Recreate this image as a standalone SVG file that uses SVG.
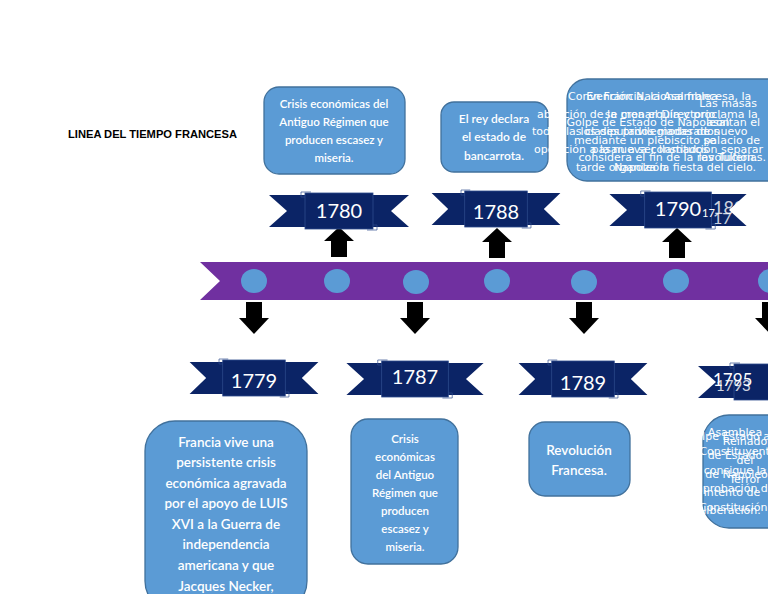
<svg xmlns="http://www.w3.org/2000/svg" width="768" height="594" viewBox="0 0 768 594">
<style>
.box{fill:#5b9bd5;stroke:#41719c;stroke-width:1.3}
.bt{font-family:Lato,"Liberation Sans",sans-serif;font-weight:600;fill:#ffffff;text-anchor:middle}
.ov{font-family:"DejaVu Sans",sans-serif;font-size:11px;fill:#ffffff}
.yr{font-family:Lato,"Liberation Sans",sans-serif;font-size:20px;fill:#ffffff;text-anchor:middle}
.arr{fill:#000000}
.rib{fill:#0b2466}
</style>
<defs>
<g id="ribbon">
<polygon class="rib" points="-70,-16 -28,-16 -28,16 -70,16 -52,0"/>
<polygon class="rib" points="70,-16 28,-16 28,16 70,16 52,0"/>
<rect class="rib" x="-34" y="-18" width="68" height="36" stroke="#2e4c8c" stroke-width="0.8"/>
<path d="M-34,-14 h-4 v-5 h10 M34,14 h4 v5 h-10" fill="none" stroke="#2e4c8c" stroke-width="0.7"/>
</g>
</defs>
<rect width="768" height="594" fill="#ffffff"/>
<text x="68" y="138" font-family="Liberation Sans,Arial,sans-serif" font-size="11.5" font-weight="bold" fill="#000" textLength="169" lengthAdjust="spacingAndGlyphs">LINEA DEL TIEMPO FRANCESA</text>

<g id="timeline">
<polygon points="200,262 768,262 768,300 200,300 220,281" fill="#7030a0"/>
<g fill="#5b9bd5">
<ellipse cx="254" cy="281" rx="13" ry="12"/>
<ellipse cx="337" cy="281" rx="13" ry="12"/>
<ellipse cx="416" cy="282" rx="13" ry="12"/>
<ellipse cx="497" cy="281" rx="13" ry="12"/>
<ellipse cx="584" cy="282" rx="13" ry="12"/>
<ellipse cx="676" cy="281" rx="13" ry="12"/>
<ellipse cx="771" cy="281" rx="13" ry="12"/>
</g>
</g>

<g id="connectors">
<polygon class="arr" points="339,227 354,241 347,241 347,257 331,257 331,241 324,241"/>
<polygon class="arr" points="497,228 512,242 505,242 505,258 489,258 489,242 482,242"/>
<polygon class="arr" points="677,228 692,242 685,242 685,258 669,258 669,242 662,242"/>
<polygon class="arr" points="246,302 262,302 262,318 269,318 254,334 239,318 246,318"/>
<polygon class="arr" points="407,302 423,302 423,318 430,318 415,334 400,318 407,318"/>
<polygon class="arr" points="576,302 592,302 592,318 599,318 584,334 569,318 576,318"/>
<polygon class="arr" points="762,302 778,302 778,318 785,318 770,334 755,318 762,318"/>
</g>

<g id="y1780"><use href="#ribbon" transform="translate(339,211)"/><text class="yr" x="339" y="218">1780</text></g>
<g id="y1788"><use href="#ribbon" transform="translate(496,209) scale(0.92,1)"/><text class="yr" x="496" y="219">1788</text></g>
<g id="y1790">
<use href="#ribbon" transform="translate(678,210) scale(0.98,1)"/>
<text class="yr" x="678" y="216">1790</text>
<text x="702" y="217" font-family="Lato,sans-serif" font-size="11" fill="#fff">17</text>
<text x="713" y="214" font-family="Lato,sans-serif" font-size="18" fill="#fff" opacity="0.8">180</text>
<text x="713" y="224" font-family="Lato,sans-serif" font-size="16" fill="#fff" opacity="0.8">17</text>
</g>
<g id="y1779"><use href="#ribbon" transform="translate(254,378) scale(0.92,1)"/><text class="yr" x="254" y="388">1779</text></g>
<g id="y1787"><use href="#ribbon" transform="translate(415,379) scale(0.98,1)"/><text class="yr" x="415" y="384">1787</text></g>
<g id="y1789"><use href="#ribbon" transform="translate(583,379) scale(0.92,1)"/><text class="yr" x="583" y="390">1789</text></g>
<g id="y1795">
<use href="#ribbon" transform="translate(768,382)"/>
<text x="713" y="386" font-family="Lato,sans-serif" font-size="17" fill="#fff">1795</text>
<text x="716" y="391" font-family="Lato,sans-serif" font-size="15" fill="#fff" opacity="0.8">1793</text>
</g>

<g id="top1">
<rect class="box" x="264" y="87" width="141" height="87" rx="15"/>
<text class="bt" font-size="11.5"><tspan x="334" y="108">Crisis económicas del</tspan><tspan x="334" y="126">Antiguo Régimen que</tspan><tspan x="334" y="144">producen escasez y</tspan><tspan x="334" y="162">miseria.</tspan></text>
</g>
<g id="top2">
<rect class="box" x="441" y="102" width="107" height="70" rx="13"/>
<text class="bt" font-size="12"><tspan x="494" y="123">El rey declara</tspan><tspan x="494" y="141">el estado de</tspan><tspan x="494" y="160">bancarrota.</tspan></text>
</g>
<g id="top3">
<rect class="box" x="567" y="79" width="220" height="102" rx="20"/>
<text class="ov"><tspan x="568" y="100">Convención Nacional francesa, la</tspan><tspan x="537" y="118">abolición de la monarquía y proclama la</tspan><tspan x="532" y="135">todas las clases privilegiadas de nuevo</tspan><tspan x="534" y="153">oposición a la nueva constitución separar</tspan><tspan x="576" y="171">tarde organiza la fiesta del cielo.</tspan></text>
<text class="ov" text-anchor="middle"><tspan x="652" y="100">En Francia, la Asamblea</tspan><tspan x="660" y="118">se crea el Directorio</tspan><tspan x="650" y="135">los diputados moderados</tspan><tspan x="650" y="153">pasan a ser llamados</tspan><tspan x="640" y="171">Napoleón</tspan></text>
<text class="ov" text-anchor="middle"><tspan x="648" y="126">Golpe de Estado de Napoleón</tspan><tspan x="645" y="144">mediante un plebiscito se</tspan><tspan x="668" y="161">considera el fin de la revolución.</tspan></text>
<text class="ov" text-anchor="end"><tspan x="757" y="107">Las masas</tspan><tspan x="760" y="126">asaltan el</tspan><tspan x="760" y="144">palacio de</tspan><tspan x="766" y="161">las Tullerías.</tspan></text>
</g>

<g id="bot1">
<rect class="box" x="145" y="421" width="162" height="190" rx="30"/>
<text class="bt" font-size="13.5"><tspan x="226" y="447">Francia vive una</tspan><tspan x="226" y="467">persistente crisis</tspan><tspan x="226" y="488">económica agravada</tspan><tspan x="226" y="508">por el apoyo de LUIS</tspan><tspan x="226" y="529">XVI a la Guerra de</tspan><tspan x="226" y="549">independencia</tspan><tspan x="226" y="570">americana y que</tspan><tspan x="226" y="591">Jacques Necker,</tspan></text>
</g>
<g id="bot2">
<rect class="box" x="351" y="419" width="107" height="145" rx="17"/>
<text class="bt" font-size="11.5"><tspan x="405" y="443">Crisis</tspan><tspan x="405" y="461">económicas</tspan><tspan x="405" y="479">del Antiguo</tspan><tspan x="405" y="497">Régimen que</tspan><tspan x="405" y="515">producen</tspan><tspan x="405" y="533">escasez y</tspan><tspan x="405" y="551">miseria.</tspan></text>
</g>
<g id="bot3">
<rect class="box" x="529" y="422" width="101" height="74" rx="16"/>
<text class="bt" font-size="13.5"><tspan x="579" y="455">Revolución</tspan><tspan x="579" y="475">Francesa.</tspan></text>
</g>
<g id="bot4">
<rect class="box" x="703" y="415" width="90" height="113" rx="26"/>
<text class="ov" text-anchor="middle"><tspan x="735" y="436">Asamblea</tspan><tspan x="738" y="455">Constituyente</tspan><tspan x="735" y="474">consigue la</tspan><tspan x="742" y="492">aprobación de la</tspan><tspan x="735" y="511">Constitución.</tspan></text>
<text class="ov" text-anchor="middle"><tspan x="730" y="440">Golpe Estado al</tspan><tspan x="735" y="459">de Estado</tspan><tspan x="740" y="478">de Napoleón</tspan><tspan x="732" y="496">intento de</tspan><tspan x="732" y="514">liberación.</tspan></text>
<text class="ov" text-anchor="middle"><tspan x="745" y="445">Reinado</tspan><tspan x="745" y="464">del</tspan><tspan x="745" y="483">Terror</tspan></text>
</g>
</svg>
